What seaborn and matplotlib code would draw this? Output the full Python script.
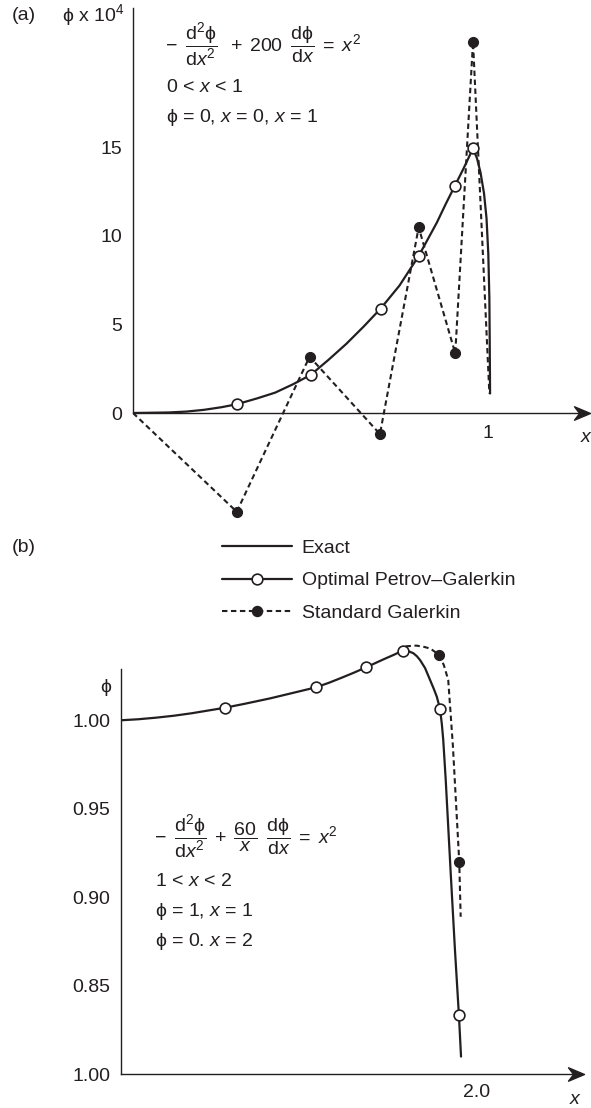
import matplotlib
matplotlib.use("Agg")
import matplotlib.pyplot as plt
import seaborn as sns
from matplotlib.lines import Line2D
from matplotlib.path import Path

sns.set_style("white")
plt.rcParams['font.family'] = ['Liberation Sans', 'DejaVu Sans']
plt.rcParams['mathtext.fontset'] = 'custom'
plt.rcParams['mathtext.rm'] = 'Liberation Sans'
plt.rcParams['mathtext.it'] = 'Liberation Sans:italic'
plt.rcParams['mathtext.bf'] = 'Liberation Sans:bold'
plt.rcParams['mathtext.sf'] = 'Liberation Sans'
plt.rcParams['mathtext.fallback'] = 'stixsans'

INK = '#231f20'
PHI = '\u03d5'

# panel (a): phi x 10^4 against x, 0 < x < 1
exact_a_x = [0.0, 0.1, 0.15, 0.2, 0.25, 0.293, 0.35, 0.4, 0.45, 0.5, 0.55, 0.6, 0.65,
             0.697, 0.75, 0.804, 0.855, 0.88, 0.905, 0.93, 0.957, 0.968, 0.978,
             0.988, 0.995, 1.0, 1.003, 1.004, 1.005]
exact_a_y = [0.0, 0.03, 0.08, 0.18, 0.33, 0.5, 0.83, 1.15, 1.62, 2.15, 3.0, 3.9, 4.9,
             5.9, 7.2, 8.87, 10.75, 11.8, 12.8, 13.8, 14.95, 14.4, 13.6,
             12.4, 11.0, 9.0, 6.5, 4.0, 1.1]
pg_a_x = [0.293, 0.5, 0.697, 0.804, 0.905, 0.957]
pg_a_y = [0.5, 2.15, 5.9, 8.87, 12.8, 14.95]
sg_a_x = [0.0, 0.292, 0.497, 0.695, 0.804, 0.907, 0.957, 1.003]
sg_a_y = [0.0, -5.58, 3.18, -1.19, 10.49, 3.37, 20.98, 1.1]
yticks_a = [0, 5, 10, 15, 20]
ytick_labels_a = ['0', '5', '10', '15', '']
xticks_a = [0.5, 1.0]
xtick_labels_a = ['', '1']

# panel (b): phi against x, 1 < x < 2
exact_b_x = [1.0, 1.05, 1.1, 1.15, 1.2, 1.293, 1.35, 1.42, 1.48, 1.548, 1.585, 1.62,
             1.655, 1.689, 1.715, 1.74, 1.765, 1.792, 1.81, 1.822, 1.832, 1.841,
             1.855, 1.869, 1.88, 1.888, 1.897, 1.902, 1.906, 1.913, 1.927, 1.939,
             1.950, 1.956]
exact_b_y = [1.0, 1.0006, 1.0015, 1.0026, 1.004, 1.0071, 1.0094, 1.0124, 1.0153, 1.0186,
             1.0212, 1.024, 1.0269, 1.0299, 1.0323, 1.0346, 1.0368, 1.0393, 1.0389,
             1.0379, 1.0362, 1.034, 1.0295, 1.0228, 1.0175, 1.0133, 1.0064, 0.998,
             0.989, 0.9663, 0.9136, 0.87, 0.8335, 0.81]
pg_b_x = [1.293, 1.548, 1.689, 1.792, 1.897, 1.950]
pg_b_y = [1.0071, 1.0186, 1.0299, 1.0393, 1.0064, 0.8335]
sg_b_x = [1.80, 1.83, 1.85, 1.87, 1.895, 1.908, 1.92, 1.933, 1.951, 1.955]
sg_b_y = [1.0418, 1.0422, 1.0416, 1.0405, 1.0369, 1.031, 1.0228, 0.986, 0.920, 0.889]
sg_b_mx = [1.895, 1.951]
sg_b_my = [1.0369, 0.920]
yticks_b = [0.80, 0.85, 0.90, 0.95, 1.00]
ytick_labels_b = ['1.00', '0.85', '0.90', '0.95', '1.00']
xticks_b = [1.5, 2.0]
xtick_labels_b = ['', '2.0']

W, H = 591, 1108
fig = plt.figure(figsize=(W / 100, H / 100), dpi=100)

def px(x, y):
    return x / W, 1 - y / H

dash = (0, (2.6, 1.7))
arrow_head = Path([(0, 0), (-1, 0.42), (-0.68, 0), (-1, -0.42), (0, 0)],
                  [Path.MOVETO, Path.LINETO, Path.LINETO, Path.LINETO, Path.CLOSEPOLY])

def style_axes(ax, xmin, xtip, ybase, ylo, ytop):
    for s in ['top', 'right']:
        ax.spines[s].set_visible(False)
    for s in ['left', 'bottom']:
        ax.spines[s].set_color(INK)
        ax.spines[s].set_linewidth(1.0)
    ax.spines['left'].set_bounds(ylo, ytop)
    ax.spines['bottom'].set_position(('data', ybase))
    ax.spines['bottom'].set_bounds(xmin, xtip - 0.02)
    ax.plot([xtip], [ybase], marker=arrow_head, markersize=23,
            color=INK, clip_on=False, zorder=5)
    ax.tick_params(direction='in', length=8.6, width=1.0, colors=INK,
                   labelsize=14, pad=8)
    ax.set_xlabel('')
    ax.set_ylabel('')

# ---- panel (a)
ax1 = fig.add_axes([133 / W, 1 - 536.9 / H, 1.29 * 355.3 / W, 30.2 * 17.7 / H])
sns.lineplot(x=exact_a_x, y=exact_a_y, sort=False, estimator=None, color=INK,
             lw=1.6, ax=ax1)
sns.lineplot(x=sg_a_x, y=sg_a_y, sort=False, estimator=None, color=INK,
             lw=1.5, linestyle=dash, ax=ax1)
sns.scatterplot(x=sg_a_x[1:-1], y=sg_a_y[1:-1], color=INK, edgecolor=INK,
                s=52, linewidth=0.8, zorder=4, ax=ax1)
sns.scatterplot(x=pg_a_x, y=pg_a_y, color='white', edgecolor=INK,
                s=60, linewidth=1.2, zorder=4, ax=ax1)
ax1.set_xlim(0, 1.29)
ax1.set_ylim(-7, 23.2)
ax1.set_xticks(xticks_a)
ax1.set_xticklabels(xtick_labels_a)
ax1.set_yticks(yticks_a)
ax1.set_yticklabels(ytick_labels_a)
style_axes(ax1, 0, 1.286, 0, 0, 22.9)
ax1.tick_params(axis='x', pad=9)

# ---- panel (b)
ax2 = fig.add_axes([120.7 / W, 1 - 1074.3 / H, 1.30 * 356 / W, 0.25 * 1770 / H])
sns.lineplot(x=exact_b_x, y=exact_b_y, sort=False, estimator=None, color=INK,
             lw=1.6, ax=ax2)
sns.lineplot(x=sg_b_x, y=sg_b_y, sort=False, estimator=None, color=INK,
             lw=1.5, linestyle=dash, ax=ax2)
sns.scatterplot(x=sg_b_mx, y=sg_b_my, color=INK, edgecolor=INK,
                s=52, linewidth=0.8, zorder=4, ax=ax2)
sns.scatterplot(x=pg_b_x, y=pg_b_y, color='white', edgecolor=INK,
                s=60, linewidth=1.2, zorder=4, ax=ax2)
ax2.set_xlim(1.0, 2.30)
ax2.set_ylim(0.80, 1.05)
ax2.set_xticks(xticks_b)
ax2.set_xticklabels(xtick_labels_b)
ax2.set_yticks(yticks_b)
ax2.set_yticklabels(ytick_labels_b)
style_axes(ax2, 1.0, 2.30, 0.80, 0.80, 1.0288)
ax2.tick_params(axis='x', pad=7)
ax2.tick_params(axis='y', pad=7.5)

# ---- texts
fs = 14
fig.text(*px(12, 15), '(a)', fontsize=fs, color=INK, ha='left', va='center')
fig.text(*px(124, 15), PHI + ' x 10$^{4}$', fontsize=fs, color=INK, ha='right', va='center')
fig.text(*px(586, 437), 'x', fontsize=fs, style='italic', color=INK, ha='center', va='center')

eq_a = (r'$-\;\;\dfrac{\mathrm{d}^2\mathrm{' + PHI + r'}}{\mathrm{d}x^2}\;\;+\;200\;\;'
        r'\dfrac{\mathrm{d' + PHI + r'}}{\mathrm{d}x}\;=\;x^2$')
fig.text(*px(165, 45), eq_a, fontsize=fs, color=INK, ha='left', va='center')
fig.text(*px(166, 88), '0 < $x$ < 1', fontsize=fs, color=INK, ha='left', va='center')
fig.text(*px(166, 118), PHI + ' = 0, $x$ = 0, $x$ = 1', fontsize=fs, color=INK,
         ha='left', va='center')

fig.text(*px(12, 547), '(b)', fontsize=fs, color=INK, ha='left', va='center')
fig.text(*px(106, 687), PHI, fontsize=fs, color=INK, ha='center', va='center')
fig.text(*px(575, 1100), 'x', fontsize=fs, style='italic', color=INK, ha='center', va='center')

eq_b = (r'$-\;\;\dfrac{\mathrm{d}^2\mathrm{' + PHI + r'}}{\mathrm{d}x^2}\;+\;\dfrac{60}{x}\;\;'
        r'\dfrac{\mathrm{d' + PHI + r'}}{\mathrm{d}x}\;=\;x^2$')
fig.text(*px(154, 837), eq_b, fontsize=fs, color=INK, ha='left', va='center')
fig.text(*px(155, 882), '1 < $x$ < 2', fontsize=fs, color=INK, ha='left', va='center')
fig.text(*px(155, 912), PHI + ' = 1, $x$ = 1', fontsize=fs, color=INK, ha='left', va='center')
fig.text(*px(155, 942), PHI + ' = 0. $x$ = 2', fontsize=fs, color=INK, ha='left', va='center')

# ---- legend
handles = [
    Line2D([], [], color=INK, lw=1.6),
    Line2D([], [], color=INK, lw=1.6, marker='o', markersize=7.7,
           markerfacecolor='white', markeredgecolor=INK, markeredgewidth=1.2),
    Line2D([], [], color=INK, lw=1.5, linestyle=dash, marker='o', markersize=7.2,
           markerfacecolor=INK, markeredgecolor=INK),
]
labels = ['Exact', 'Optimal Petrov\u2013Galerkin', 'Standard Galerkin']
fig.legend(handles, labels, loc='upper left', bbox_to_anchor=px(222, 539),
           frameon=False, fontsize=fs, handlelength=3.6, handletextpad=0.5,
           labelspacing=0.78, borderpad=0, borderaxespad=0, labelcolor=INK)

plt.savefig("out.png", dpi=100)
